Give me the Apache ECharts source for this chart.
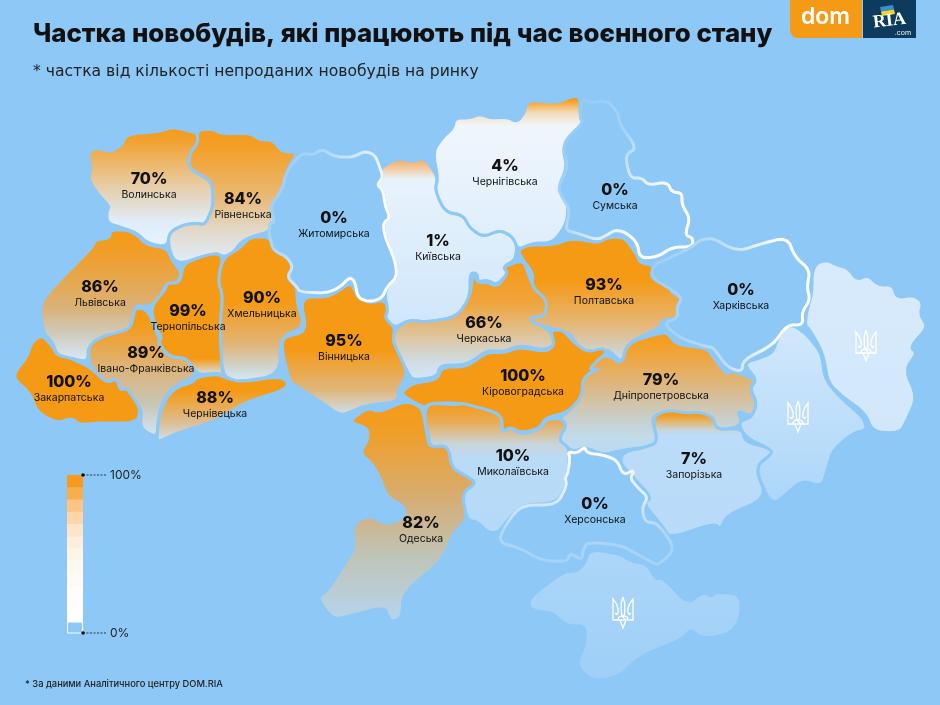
<!DOCTYPE html>
<html>
<head>
<meta charset="utf-8">
<style>html,body{margin:0;padding:0;background:#8dc8f6}#chart{width:940px;height:705px}</style>
<script src="https://cdn.jsdelivr.net/npm/echarts@6/dist/echarts.min.js"></script>
</head>
<body>
<div id="chart"></div>
<script>
const regionNames = ['Волинська','Рівненська','Львівська','Закарпатська','Івано-Франківська','Тернопільська','Хмельницька','Чернівецька','Вінницька','Київська','Чернігівська','Черкаська','Полтавська','Кіровоградська','Дніпропетровська','Одеська','Миколаївська','Запорізька','Житомирська','Сумська','Харківська','Херсонська'];
const regionShares = [70,84,86,100,89,99,90,88,95,1,4,66,93,100,79,82,10,7,0,0,0,0];
const unlabeledRegions = ['Крим','Донецька','Луганська'];
const legendTicks = ['100%','0%'];
const legendSteps = ['#f59a1c','#f8ae4a','#fbc583','#fcd6a6','#fde6c8','#feefdc','#fff4e8','#fff8f0','#fffaf5','#fffcf9','#fffdfb','#ffffff'];

const BG = '#8dc8f6';
const ORANGE = '#f59a14';

// region outlines in page pixels
const outlines = {
  'Волинська': [[88,152],[97,148],[110,152],[121,146],[127,134],[157,132],[173,127],[193,132],[197,133],[198,143],[190,153],[188,168],[210,180],[213,190],[213,207],[205,225],[197,223],[183,225],[170,232],[167,247],[147,243],[137,233],[123,228],[107,223],[107,210],[110,207],[97,193],[88,178],[91,170]],
  'Рівненська': [[197,130],[213,129],[222,134],[250,133],[260,140],[273,140],[282,152],[298,152],[287,170],[282,190],[270,207],[275,222],[270,223],[269,232],[250,237],[240,243],[233,253],[223,257],[217,253],[200,257],[183,263],[173,260],[168,243],[170,232],[183,225],[197,223],[205,225],[213,207],[213,190],[210,180],[188,168],[190,153],[198,143]],
  'Львівська': [[110,230],[127,230],[137,235],[147,245],[167,248],[172,260],[182,273],[177,283],[165,285],[160,300],[147,307],[135,305],[132,323],[128,330],[100,337],[88,347],[88,362],[70,358],[57,355],[53,343],[43,332],[40,307],[47,293],[93,247],[95,240],[110,238]],
  'Закарпатська': [[42,335],[53,347],[57,355],[70,358],[90,367],[107,383],[117,378],[120,390],[127,388],[137,403],[140,410],[137,423],[97,423],[80,425],[72,418],[57,423],[37,412],[30,393],[15,380],[15,372],[27,357],[32,342]],
  'Івано-Франківська': [[88,347],[100,337],[128,330],[132,323],[135,307],[148,310],[157,333],[160,340],[158,343],[170,357],[187,358],[195,373],[193,377],[173,387],[163,400],[158,420],[157,438],[140,428],[142,412],[137,403],[127,388],[120,390],[117,378],[107,383],[90,367]],
  'Тернопільська': [[183,264],[200,257],[217,253],[223,258],[218,280],[223,297],[220,323],[222,370],[224,375],[217,373],[197,375],[187,358],[170,357],[158,343],[162,337],[157,330],[150,308],[165,290],[167,283],[180,283]],
  'Хмельницька': [[223,258],[240,248],[250,237],[270,237],[273,250],[287,257],[293,267],[287,277],[297,287],[297,303],[305,327],[280,337],[280,375],[240,382],[227,378],[222,370],[220,323],[223,297],[218,280]],
  'Чернівецька': [[197,377],[217,374],[227,378],[240,382],[283,376],[290,388],[247,402],[233,410],[213,422],[177,433],[158,442],[157,438],[159,417],[165,400],[175,388],[193,382]],
  'Вінницька': [[300,297],[327,297],[340,290],[350,283],[355,290],[358,298],[370,303],[385,300],[388,310],[385,318],[395,328],[393,340],[397,350],[408,373],[398,390],[398,402],[367,405],[348,413],[340,415],[322,403],[300,388],[290,383],[282,350],[283,337],[307,332]],
  'Київська': [[380,168],[398,158],[413,162],[422,158],[428,162],[438,178],[435,190],[445,212],[463,215],[470,228],[483,237],[500,230],[513,237],[517,247],[515,260],[503,267],[508,273],[497,285],[487,280],[478,282],[477,273],[470,273],[470,297],[457,317],[427,322],[408,320],[395,328],[385,318],[388,310],[385,297],[387,287],[397,277],[395,260],[385,237],[383,223],[390,218],[385,205],[383,190],[377,185],[383,177]],
  'Чернігівська': [[433,152],[442,138],[453,128],[455,118],[470,118],[480,114],[490,118],[507,117],[517,122],[525,112],[527,100],[557,103],[570,97],[580,96],[580,118],[585,125],[567,142],[563,150],[567,167],[558,188],[568,203],[567,223],[553,243],[533,243],[518,250],[513,237],[500,230],[483,237],[470,228],[463,215],[445,212],[435,190],[438,178]],
  'Черкаська': [[473,273],[478,283],[487,282],[497,287],[508,273],[503,267],[523,260],[527,270],[533,287],[547,300],[547,317],[532,317],[533,322],[550,330],[555,345],[543,350],[520,345],[503,352],[487,350],[467,365],[440,365],[437,377],[413,380],[408,373],[397,350],[393,340],[395,330],[408,320],[427,322],[457,317],[470,297]],
  'Полтавська': [[518,250],[528,245],[553,245],[573,238],[597,243],[607,238],[615,237],[625,238],[637,255],[640,263],[654,265],[650,278],[670,287],[672,293],[682,298],[677,307],[678,318],[662,320],[660,328],[627,343],[622,363],[612,353],[607,350],[588,352],[577,345],[570,333],[550,328],[532,322],[530,317],[545,317],[547,300],[532,287],[533,273],[523,260]],
  'Кіровоградська': [[402,392],[413,383],[437,380],[442,367],[467,367],[487,352],[503,353],[520,347],[545,352],[555,345],[550,330],[563,330],[570,338],[577,345],[588,352],[603,348],[607,353],[588,370],[600,368],[583,377],[582,397],[568,412],[545,418],[540,428],[522,433],[510,427],[503,432],[500,417],[495,412],[462,403],[430,403],[425,408],[410,400],[403,395]],
  'Дніпропетровська': [[605,353],[622,365],[627,343],[660,333],[667,333],[677,345],[707,348],[713,357],[727,375],[730,370],[757,380],[750,388],[757,403],[752,417],[737,410],[742,422],[735,428],[715,430],[712,417],[700,413],[687,415],[668,412],[655,415],[652,420],[658,442],[647,447],[623,450],[603,455],[585,447],[573,452],[558,440],[567,425],[560,418],[568,412],[582,397],[583,377],[600,368],[588,370]],
  'Одеська': [[348,422],[367,408],[380,412],[400,403],[410,402],[422,408],[425,423],[428,440],[430,447],[448,445],[452,468],[465,475],[477,483],[462,493],[467,520],[453,533],[443,560],[403,593],[402,617],[393,622],[388,617],[385,607],[353,615],[333,620],[317,598],[328,590],[345,563],[355,547],[352,525],[368,515],[388,525],[405,517],[405,507],[387,497],[380,478],[373,465],[360,453],[368,440],[368,428]],
  'Миколаївська': [[425,410],[430,403],[457,405],[462,403],[495,412],[502,418],[502,433],[510,427],[522,435],[542,428],[545,420],[560,418],[567,425],[558,440],[570,448],[568,473],[565,478],[567,485],[557,503],[523,505],[510,517],[498,533],[487,532],[478,522],[467,520],[462,493],[477,483],[465,475],[452,468],[448,445],[430,447],[428,432],[425,423]],
  'Запорізька': [[652,417],[668,410],[687,413],[700,412],[713,417],[717,430],[742,428],[745,442],[770,448],[773,453],[755,467],[767,498],[727,515],[720,530],[715,523],[670,538],[663,527],[643,503],[652,498],[633,477],[620,463],[623,452],[647,447],[658,442]],
  'Крим': [[590,550],[620,555],[630,562],[647,565],[655,580],[663,579],[687,605],[703,593],[712,598],[715,593],[740,595],[740,617],[730,633],[703,638],[690,628],[683,638],[640,655],[617,677],[592,680],[577,665],[585,648],[587,625],[567,625],[553,612],[533,610],[528,600],[563,573],[577,572],[585,565]],
  'Донецька': [[743,363],[763,357],[773,352],[777,340],[785,328],[793,325],[805,333],[817,347],[822,357],[825,380],[843,400],[863,417],[867,430],[853,433],[833,450],[828,467],[822,487],[802,480],[783,497],[775,503],[767,497],[755,467],[773,453],[768,448],[745,437],[738,422],[752,417],[757,403],[750,388],[757,380]],
  'Луганська': [[812,272],[817,263],[827,260],[837,265],[848,268],[857,280],[868,275],[878,285],[893,285],[897,298],[913,295],[923,302],[920,315],[928,327],[910,347],[917,353],[905,370],[917,397],[907,420],[900,433],[873,432],[865,413],[843,397],[828,383],[823,353],[810,330],[805,325],[807,310],[812,293]],
  'Житомирська': [[302,153],[313,155],[322,149],[332,155],[340,157],[353,157],[365,151],[375,155],[380,168],[383,177],[377,185],[383,190],[385,205],[390,218],[383,223],[385,237],[395,260],[397,277],[387,287],[382,298],[370,302],[358,298],[355,282],[350,277],[340,287],[327,293],[300,292],[297,287],[287,277],[293,267],[287,257],[273,250],[270,237],[269,232],[270,223],[275,222],[270,207],[282,190],[287,170]],
  'Сумська': [[582,98],[590,103],[607,100],[618,113],[620,125],[637,148],[625,155],[630,178],[642,178],[648,185],[667,182],[672,192],[682,193],[682,205],[690,218],[685,235],[693,238],[692,247],[673,247],[657,257],[640,258],[637,242],[625,232],[615,230],[607,235],[597,240],[577,233],[565,230],[570,210],[562,197],[558,188],[568,167],[563,148],[568,137],[583,123],[580,117]],
  'Харківська': [[653,265],[670,258],[692,247],[700,240],[713,238],[730,248],[743,250],[757,245],[787,237],[795,257],[810,270],[807,287],[810,300],[802,312],[803,325],[787,325],[773,345],[743,360],[742,372],[727,367],[713,347],[707,347],[680,338],[663,323],[678,318],[677,307],[682,298],[672,290],[652,278]],
  'Херсонська': [[568,452],[577,453],[585,447],[587,453],[603,455],[617,460],[623,475],[635,470],[630,478],[638,488],[648,497],[642,508],[645,522],[657,523],[672,543],[672,553],[660,563],[657,565],[635,553],[620,545],[588,542],[583,550],[582,560],[570,553],[567,562],[540,560],[520,548],[497,542],[510,518],[523,505],[557,505],[567,485],[565,478],[568,473],[570,457]]
};

// where each region's label sits, page pixels
const labelAt = {
  'Волинська':[149,186],'Рівненська':[243,206],'Львівська':[100,294],'Закарпатська':[69,389],'Івано-Франківська':[146,360],'Тернопільська':[188,318],'Хмельницька':[262,305],'Чернівецька':[215,405],'Вінницька':[344,348],'Київська':[438,248],'Чернігівська':[505,173],'Черкаська':[484,330],'Полтавська':[604,292],'Кіровоградська':[523,383],'Дніпропетровська':[661,387],'Одеська':[421,530],'Миколаївська':[513,463],'Запорізька':[694,466],'Житомирська':[334,225],'Сумська':[615,197],'Харківська':[741,297],'Херсонська':[595,511]
};

// vertical fill stops per region
const fills = {
  'Волинська': [[0,ORANGE],[.1,'#f2a02a'],[.55,'#e5d3b8'],[.8,'#e0eefb'],[1,'#e6f3fd']],
  'Рівненська': [[0,ORANGE],[.15,'#f3a02a'],[.5,'#e9b873'],[.75,'#e2d8c9'],[1,'#e0eefc']],
  'Львівська': [[0,ORANGE],[.2,'#f09f2b'],[.6,'#d9b279'],[.8,'#cfcdc0'],[1,'#dbeafa']],
  'Закарпатська': [[0,ORANGE],[1,ORANGE]],
  'Івано-Франківська': [[0,ORANGE],[.12,ORANGE],[.45,'#dfb276'],[.75,'#c8c6b5'],[1,'#d4e6f8']],
  'Тернопільська': [[0,ORANGE],[.86,ORANGE],[.98,'#d6dfe0'],[1,'#d6dfe0']],
  'Хмельницька': [[0,ORANGE],[.45,ORANGE],[.75,'#e0b67d'],[.9,'#cfd6d0'],[1,'#d8ebfb']],
  'Чернівецька': [[0,ORANGE],[.25,ORANGE],[.7,'#dcbd91'],[1,'#d2e1ee']],
  'Вінницька': [[0,ORANGE],[.5,ORANGE],[.8,'#e0b67a'],[1,'#cfe0ee']],
  'Київська': [[0,'#f2a65b'],[.06,'#f3c79a'],[.13,'#e8f3fc'],[1,'#cfe6fb']],
  'Чернігівська': [[0,ORANGE],[.03,ORANGE],[.12,'#f3ddbe'],[.2,'#f0f6fc'],[1,'#deedfc']],
  'Черкаська': [[0,ORANGE],[.35,'#f0a43a'],[.7,'#d9cdb5'],[.85,'#cfdde6'],[1,'#d5e8fa']],
  'Полтавська': [[0,ORANGE],[.35,ORANGE],[.7,'#e5b777'],[.9,'#d2d0c4'],[1,'#c8dff1']],
  'Кіровоградська': [[0,ORANGE],[1,ORANGE]],
  'Дніпропетровська': [[0,ORANGE],[.12,'#f4a12a'],[.45,'#dcb884'],[.7,'#c9cfca'],[.85,'#c2dbea'],[1,'#b8daf7']],
  'Одеська': [[0,ORANGE],[.15,'#f09f2b'],[.45,'#d5ae76'],[.7,'#bfc4b7'],[1,'#b6d5ee']],
  'Миколаївська': [[0,ORANGE],[.15,'#e9ab55'],[.32,'#c9d5dc'],[.42,'#b9dbf6'],[1,'#b4daf9']],
  'Запорізька': [[0,ORANGE],[.04,ORANGE],[.16,'#c8d5d6'],[.2,'#bcdcf9'],[1,'#b8dbf9']],
  'Крим': [[0,'#acd6f9'],[1,'#9fcff7']],
  'Донецька': [[0,'#d2e8fb'],[1,'#acd6f9']],
  'Луганська': [[0,'#d8ebfc'],[1,'#d2e7fb']],
  'Житомирська': [[0,BG],[1,BG]],
  'Сумська': [[0,BG],[1,BG]],
  'Харківська': [[0,BG],[1,BG]],
  'Херсонська': [[0,BG],[1,BG]]
};

// the 0% regions carry a border that fades to white
const borders = {
  'Житомирська': {x:0,y:0,x2:1,y2:.4,stops:[[0,BG],[.35,'#aed7f7'],[.9,'#ffffff'],[1,'#ffffff']]},
  'Сумська': {x:0,y:0,x2:1,y2:.6,stops:[[0,BG],[.45,'#a8d4f7'],[.85,'#ffffff'],[1,'#ffffff']]},
  'Харківська': {x:0,y:0,x2:1,y2:0,stops:[[0,'#9aceF7'],[.45,'#bcdcf9'],[.8,'#ffffff'],[1,'#ffffff']]},
  'Херсонська': {x:0,y:0,x2:0,y2:1,stops:[[0,'#ffffff'],[.45,'#d8ebfb'],[.7,'#aed7f7'],[1,'#a4d2f7']]}
};

function gradient(stops, x, y, x2, y2) {
  return {type:'linear', x, y, x2, y2, colorStops: stops.map(s => ({offset:s[0], color:s[1]}))};
}

// round the hand traced corners
function rounded(ring, passes) {
  let pts = ring;
  for (let n = 0; n < passes; n++) {
    const next = [];
    pts.forEach((p, i) => {
      const q = pts[(i + 1) % pts.length];
      next.push([p[0] * .78 + q[0] * .22, p[1] * .78 + q[1] * .22]);
      next.push([p[0] * .22 + q[0] * .78, p[1] * .22 + q[1] * .78]);
    });
    pts = next;
  }
  return pts;
}

const features = Object.keys(outlines).map(name => {
  const ring = rounded(outlines[name], 2).map(p => [p[0], -p[1]]);
  ring.push(ring[0]);
  const props = {name};
  if (labelAt[name]) props.cp = [labelAt[name][0], -labelAt[name][1]];
  return {type:'Feature', properties:props, geometry:{type:'Polygon', coordinates:[ring]}};
});
echarts.registerMap('ua', {type:'FeatureCollection', features});

const mapData = regionNames.map((name, i) => ({
  name,
  value: regionShares[i]
})).concat(unlabeledRegions.map(name => ({name, label:{show:false}}))).map(d => {
  const b = borders[d.name];
  d.itemStyle = {
    areaColor: gradient(fills[d.name], 0, 0, 0, 1),
    borderColor: b ? gradient(b.stops, b.x, b.y, b.x2, b.y2) : BG,
    borderWidth: d.name === 'Крим' ? 1 : 3
  };
  return d;
});

// trident emblem strokes in a 22x33 box
const tridentStrokes = [
  [[11,1],[9.3,7],[9.2,13],[9.5,18],[11,21],[12.5,18],[12.8,13],[12.7,7],[11,1]],
  [[3,17],[4.5,18.5],[6,17],[6.2,13],[4.5,8],[1,3],[1,24],[21,24],[21,3],[17.5,8],[15.8,13],[16,17],[17.5,18.5],[19,17]],
  [[6,24],[6.5,21.5],[9,20],[11,21],[13,20],[15.5,21.5],[16,24]],
  [[8,24],[11,32],[14,24],[11,21]]
];
const tridentAt = [[855,329],[787,400],[612,596]];

const graphics = [];
tridentAt.forEach(p => tridentStrokes.forEach(points => graphics.push({
  type:'polyline', silent:true, z:10, x:p[0], y:p[1],
  shape:{points},
  style:{fill:'none', stroke:'#fff', lineWidth:1.3}
})));

// legend bar
const barX = 67, barTop = 475, barW = 16, stepH = 12.25;
legendSteps.forEach((c, i) => graphics.push({
  type:'rect', silent:true, shape:{x:barX, y:barTop + i * stepH, width:barW, height:stepH + .5}, style:{fill:c}
}));
graphics.push({type:'rect', silent:true, shape:{x:barX + .5, y:622, width:barW - 1, height:11}, style:{fill:BG, stroke:'#fff', lineWidth:1}});
[475, 633].forEach((y, i) => {
  graphics.push({type:'line', silent:true, shape:{x1:83, y1:y, x2:106, y2:y}, style:{stroke:'#111', lineWidth:.8, lineDash:[2,1.5]}});
  graphics.push({type:'circle', silent:true, shape:{cx:83, cy:y, r:1.8}, style:{fill:'#111'}});
  graphics.push({type:'text', silent:true, x:110, y:y, style:{text:legendTicks[i], fill:'#222', font:'12px Inter', verticalAlign:'middle'}});
});

// logo block
graphics.push(
  {type:'rect', silent:true, shape:{x:790, y:0, width:72, height:38, r:[0,0,0,8]}, style:{fill:'#f59a14'}},
  {type:'rect', silent:true, shape:{x:863, y:0, width:53, height:38}, style:{fill:'#0c3b5e'}},
  {type:'text', silent:true, x:801, y:17, style:{text:'dom', fill:'#fff', font:'600 23px Inter', verticalAlign:'middle'}},
  {type:'polygon', silent:true, shape:{points:[[880,7],[893,5],[894,9.5],[881,11.5]]}, style:{fill:'#3a8fd0'}},
  {type:'polygon', silent:true, shape:{points:[[881,11.5],[894,9.5],[895,14],[882,16]]}, style:{fill:'#f6d32e'}},
  {type:'text', silent:true, x:889.5, y:21, rotation:.12, style:{text:'RIA', fill:'#fff', font:'bold 18px "Liberation Serif"', align:'center', verticalAlign:'middle'}},
  {type:'text', silent:true, x:903, y:33, style:{text:'.com', fill:'#fff', font:'7px Inter', align:'center', verticalAlign:'middle'}}
);

const chart = echarts.init(document.getElementById('chart'));
chart.setOption({
  backgroundColor: BG,
  animation: false,
  title: [
    {text:'Частка новобудів, які працюють під час воєнного стану', left:33, top:21, padding:0,
      textStyle:{fontFamily:'Inter', fontWeight:800, fontSize:25.8, color:'#111'}},
    {text:'* частка від кількості непроданих новобудів на ринку', left:33, top:64, padding:0,
      textStyle:{fontFamily:'DejaVu Sans', fontWeight:400, fontSize:15.6, color:'#222'}},
    {text:'* За даними Аналітичного центру DOM.RIA', left:25, top:680, padding:0,
      textStyle:{fontFamily:'Inter', fontWeight:500, fontSize:9.3, color:'#222'}}
  ],
  series: [{
    type:'map',
    map:'ua',
    boundingCoords:[[0,0],[940,-705]],
    aspectScale:1,
    left:0, top:0, right:0, bottom:0,
    roam:false,
    silent:true,
    selectedMode:false,
    emphasis:{disabled:true},
    label:{
      show:true,
      formatter: p => `{v|${p.value}%}\n{n|${p.name}}`,
      rich:{
        v:{fontFamily:'Inter', fontWeight:800, fontSize:16, lineHeight:18, color:'#111', align:'center'},
        n:{fontFamily:'Inter', fontWeight:400, fontSize:10.5, lineHeight:14, color:'#111', align:'center'}
      }
    },
    data: mapData
  }],
  graphic: graphics
});
</script>
</body>
</html>
